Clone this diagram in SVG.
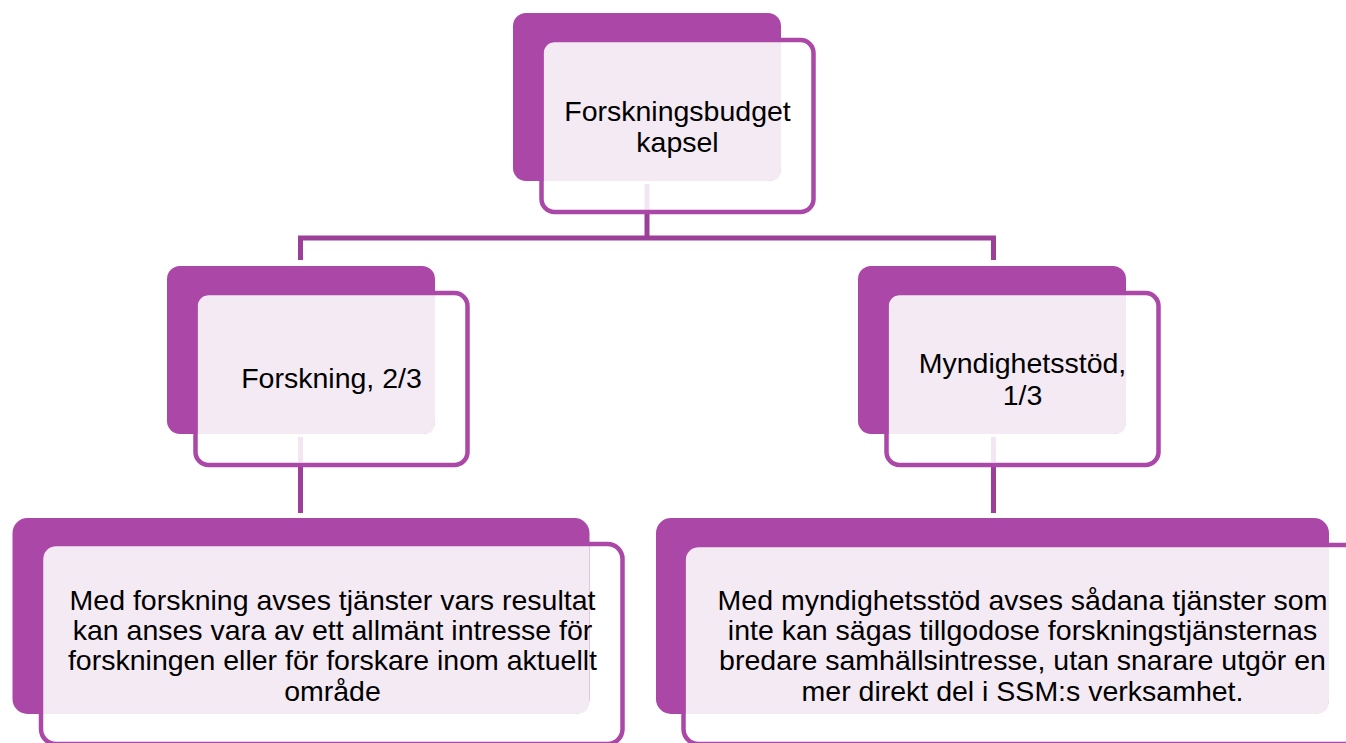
<svg xmlns="http://www.w3.org/2000/svg" width="1346" height="743" viewBox="0 0 1346 743">
<defs>
<style>
.back{fill:#AB47A7;}
.light{fill:#F4EAF4;}
.front{fill:none;stroke:#AB47A7;stroke-width:4.5;}
.conn{stroke:#9B3F98;stroke-width:5;fill:none;}
.faint{stroke:#F1E6F1;stroke-width:5;fill:none;}
text{font-family:"Liberation Sans",Arial,sans-serif;font-size:28.5px;fill:#000;text-anchor:middle;}
</style>
</defs>
<rect width="1346" height="743" fill="#FFFFFF"/>
<g id="connectors">
<line class="conn" x1="647" y1="212" x2="647" y2="238"/>
<line class="conn" x1="298" y1="238" x2="996" y2="238"/>
<line class="conn" x1="300.5" y1="236" x2="300.5" y2="260"/>
<line class="conn" x1="993.5" y1="236" x2="993.5" y2="260"/>
<line class="conn" x1="300.5" y1="465" x2="300.5" y2="513"/>
<line class="conn" x1="993.5" y1="465" x2="993.5" y2="513"/>
</g>
<g id="node-top">
<rect class="back" x="513" y="13" width="268" height="168" rx="13"/>
<path class="light" d="M543.5 52 Q543.5 42 553.5 42 L781 42 L781 169 Q781 181 769 181 L543.5 181 Z"/>
<line class="faint" x1="647" y1="184" x2="647" y2="210"/>
<rect class="front" x="541.5" y="40" width="272" height="172" rx="13"/>
<text x="677.5" y="121">Forskningsbudget</text>
<text x="677.5" y="152">kapsel</text>
</g>
<g id="node-forskning">
<rect class="back" x="167" y="266" width="268" height="168" rx="13"/>
<path class="light" d="M197.5 305 Q197.5 295 207.5 295 L435 295 L435 422 Q435 434 423 434 L197.5 434 Z"/>
<line class="faint" x1="300.5" y1="437" x2="300.5" y2="462"/>
<rect class="front" x="195.5" y="293" width="272" height="172" rx="13"/>
<text x="331.5" y="388">Forskning, 2/3</text>
</g>
<g id="node-myndighetsstod">
<rect class="back" x="858" y="266" width="268" height="168" rx="13"/>
<path class="light" d="M888.5 305 Q888.5 295 898.5 295 L1126 295 L1126 422 Q1126 434 1114 434 L888.5 434 Z"/>
<line class="faint" x1="993.5" y1="437" x2="993.5" y2="462"/>
<rect class="front" x="886.5" y="293" width="272" height="172" rx="13"/>
<text x="1022.5" y="373">Myndighetsstöd,</text>
<text x="1022.5" y="405">1/3</text>
</g>
<g id="node-forskning-desc">
<rect class="back" x="12.5" y="518" width="577" height="196" rx="15"/>
<path class="light" d="M43 558 Q43 546 55 546 L589.5 546 L589.5 700 Q589.5 714 575.5 714 L43 714 Z"/>
<rect class="front" x="41" y="544" width="581.5" height="200" rx="15"/>
<text x="332.5" y="610">Med forskning avses tjänster vars resultat</text>
<text x="332.5" y="640">kan anses vara av ett allmänt intresse för</text>
<text x="332.5" y="670">forskningen eller för forskare inom aktuellt</text>
<text x="332.5" y="701">område</text>
</g>
<g id="node-myndighetsstod-desc">
<rect class="back" x="656" y="518" width="673" height="196" rx="15"/>
<path class="light" d="M685.5 559 Q685.5 547 697.5 547 L1329 547 L1329 700 Q1329 714 1315 714 L685.5 714 Z"/>
<rect class="front" x="683.5" y="545" width="677" height="199" rx="15"/>
<text x="1022.5" y="610">Med myndighetsstöd avses sådana tjänster som</text>
<text x="1022.5" y="640">inte kan sägas tillgodose forskningstjänsternas</text>
<text x="1022.5" y="670">bredare samhällsintresse, utan snarare utgör en</text>
<text x="1022.5" y="701">mer direkt del i SSM:s verksamhet.</text>
</g>
</svg>
